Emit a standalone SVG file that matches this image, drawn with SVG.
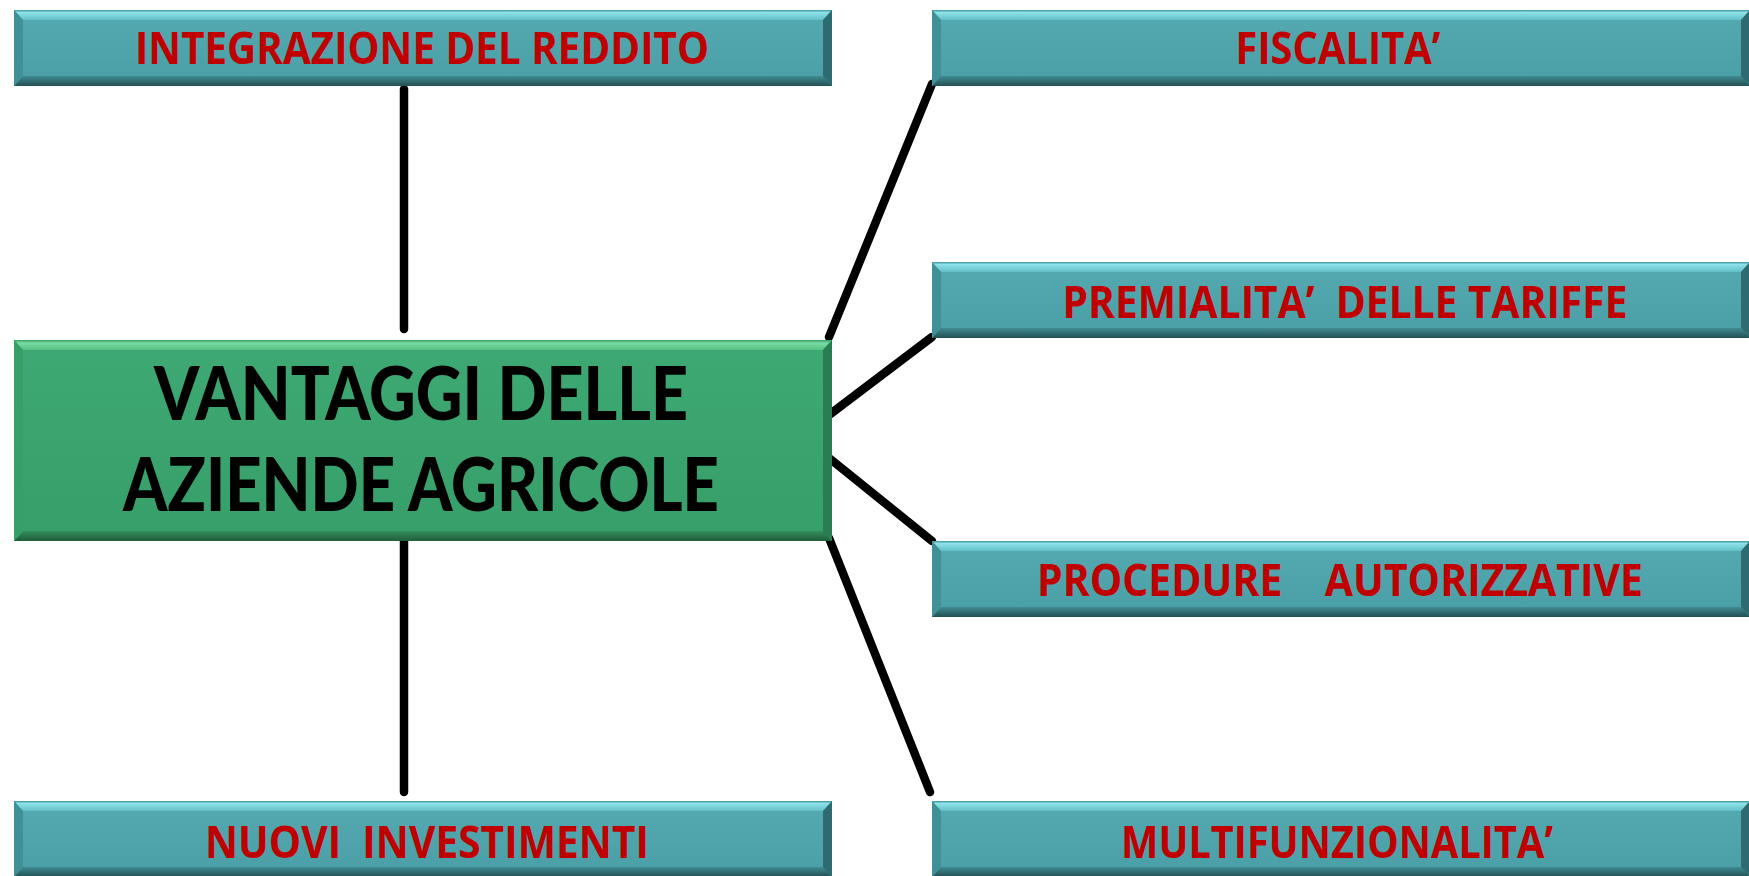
<svg xmlns="http://www.w3.org/2000/svg" width="1749" height="876" viewBox="0 0 1749 876">
<style>
.lbl{font-family:"Open Sans","Noto Sans","Liberation Sans",sans-serif;font-weight:700;fill:#C00000;font-size:45px;white-space:pre}
.ctr{font-family:Lato,"Liberation Sans",sans-serif;font-weight:900;fill:#000;font-size:75px}
.conn{stroke:#000;stroke-width:8.5;stroke-linecap:round;fill:none}
</style>
<defs>
<linearGradient id="tBody" x1="0" y1="0" x2="0" y2="1">
<stop offset="0" stop-color="#55aab1"/><stop offset="1" stop-color="#4a9fa6"/>
</linearGradient>
<linearGradient id="tTop" x1="0" y1="0" x2="0" y2="1">
<stop offset="0" stop-color="#3f9198"/><stop offset="0.25" stop-color="#8ee2ea"/><stop offset="1" stop-color="#62bfc7"/>
</linearGradient>
<linearGradient id="tBot" x1="0" y1="0" x2="0" y2="1">
<stop offset="0" stop-color="#3f8c92"/><stop offset="1" stop-color="#234f52"/>
</linearGradient>
<linearGradient id="gBody" x1="0" y1="0" x2="0" y2="1">
<stop offset="0" stop-color="#3ea974"/><stop offset="1" stop-color="#379f69"/>
</linearGradient>
<linearGradient id="gTop" x1="0" y1="0" x2="0" y2="1">
<stop offset="0" stop-color="#3a9a66"/><stop offset="0.3" stop-color="#79dda2"/><stop offset="1" stop-color="#55c083"/>
</linearGradient>
<linearGradient id="gBot" x1="0" y1="0" x2="0" y2="1">
<stop offset="0" stop-color="#338f5e"/><stop offset="1" stop-color="#1f5c3b"/>
</linearGradient>
<g id="tealBox">
<rect x="0" y="0" width="818" height="76" fill="url(#tBody)"/>
<polygon points="0,0 818,0 809,10 9,10" fill="url(#tTop)"/>
<polygon points="0,76 818,76 809,66 9,66" fill="url(#tBot)"/>
<polygon points="0,0 9,10 9,66 0,76" fill="#3f9097"/>
<polygon points="818,0 809,10 809,66 818,76" fill="#2e6b70"/>
</g>
</defs>
<g id="connectors">
<line class="conn" x1="404" y1="89" x2="404" y2="329"/>
<line class="conn" x1="404" y1="538" x2="404" y2="792"/>
<line class="conn" x1="829" y1="337" x2="932" y2="84"/>
<line class="conn" x1="829" y1="415" x2="932" y2="337"/>
<line class="conn" x1="829" y1="458" x2="932" y2="541"/>
<line class="conn" x1="829" y1="538" x2="930" y2="792"/>
</g>
<g id="integrazione">
<use href="#tealBox" x="14" y="10"/>
<text class="lbl" x="422" y="64" text-anchor="middle" textLength="574" lengthAdjust="spacingAndGlyphs">INTEGRAZIONE DEL REDDITO</text>
</g>
<g id="fiscalita">
<use href="#tealBox" x="932" y="10"/>
<text class="lbl" x="1338" y="64" text-anchor="middle" textLength="205" lengthAdjust="spacingAndGlyphs">FISCALITA’</text>
</g>
<g id="premialita">
<use href="#tealBox" x="932" y="262"/>
<text class="lbl" x="1345" y="318" text-anchor="middle" textLength="565" lengthAdjust="spacingAndGlyphs">PREMIALITA’  DELLE TARIFFE</text>
</g>
<g id="procedure">
<use href="#tealBox" x="932" y="541"/>
<text class="lbl" x="1340" y="596" text-anchor="middle" textLength="606" lengthAdjust="spacingAndGlyphs">PROCEDURE    AUTORIZZATIVE</text>
</g>
<g id="nuovi">
<use href="#tealBox" x="14" y="801"/>
<text class="lbl" x="427" y="858" text-anchor="middle" textLength="444" lengthAdjust="spacingAndGlyphs">NUOVI  INVESTIMENTI</text>
</g>
<g id="multifunzionalita">
<use href="#tealBox" x="932" y="801"/>
<text class="lbl" x="1337" y="858" text-anchor="middle" textLength="432" lengthAdjust="spacingAndGlyphs">MULTIFUNZIONALITA’</text>
</g>
<g id="vantaggi">
<rect x="14" y="340" width="818" height="201" fill="url(#gBody)"/>
<polygon points="14,340 832,340 823,350 23,350" fill="url(#gTop)"/>
<polygon points="14,541 832,541 823,531 23,531" fill="url(#gBot)"/>
<polygon points="14,340 23,350 23,531 14,541" fill="#36a068"/>
<polygon points="832,340 823,350 823,531 832,541" fill="#2a7d52"/>
<text class="ctr" x="421" y="420" text-anchor="middle" textLength="534" lengthAdjust="spacingAndGlyphs">VANTAGGI DELLE</text>
<text class="ctr" x="421" y="511" text-anchor="middle" textLength="596" lengthAdjust="spacingAndGlyphs">AZIENDE AGRICOLE</text>
</g>
</svg>
